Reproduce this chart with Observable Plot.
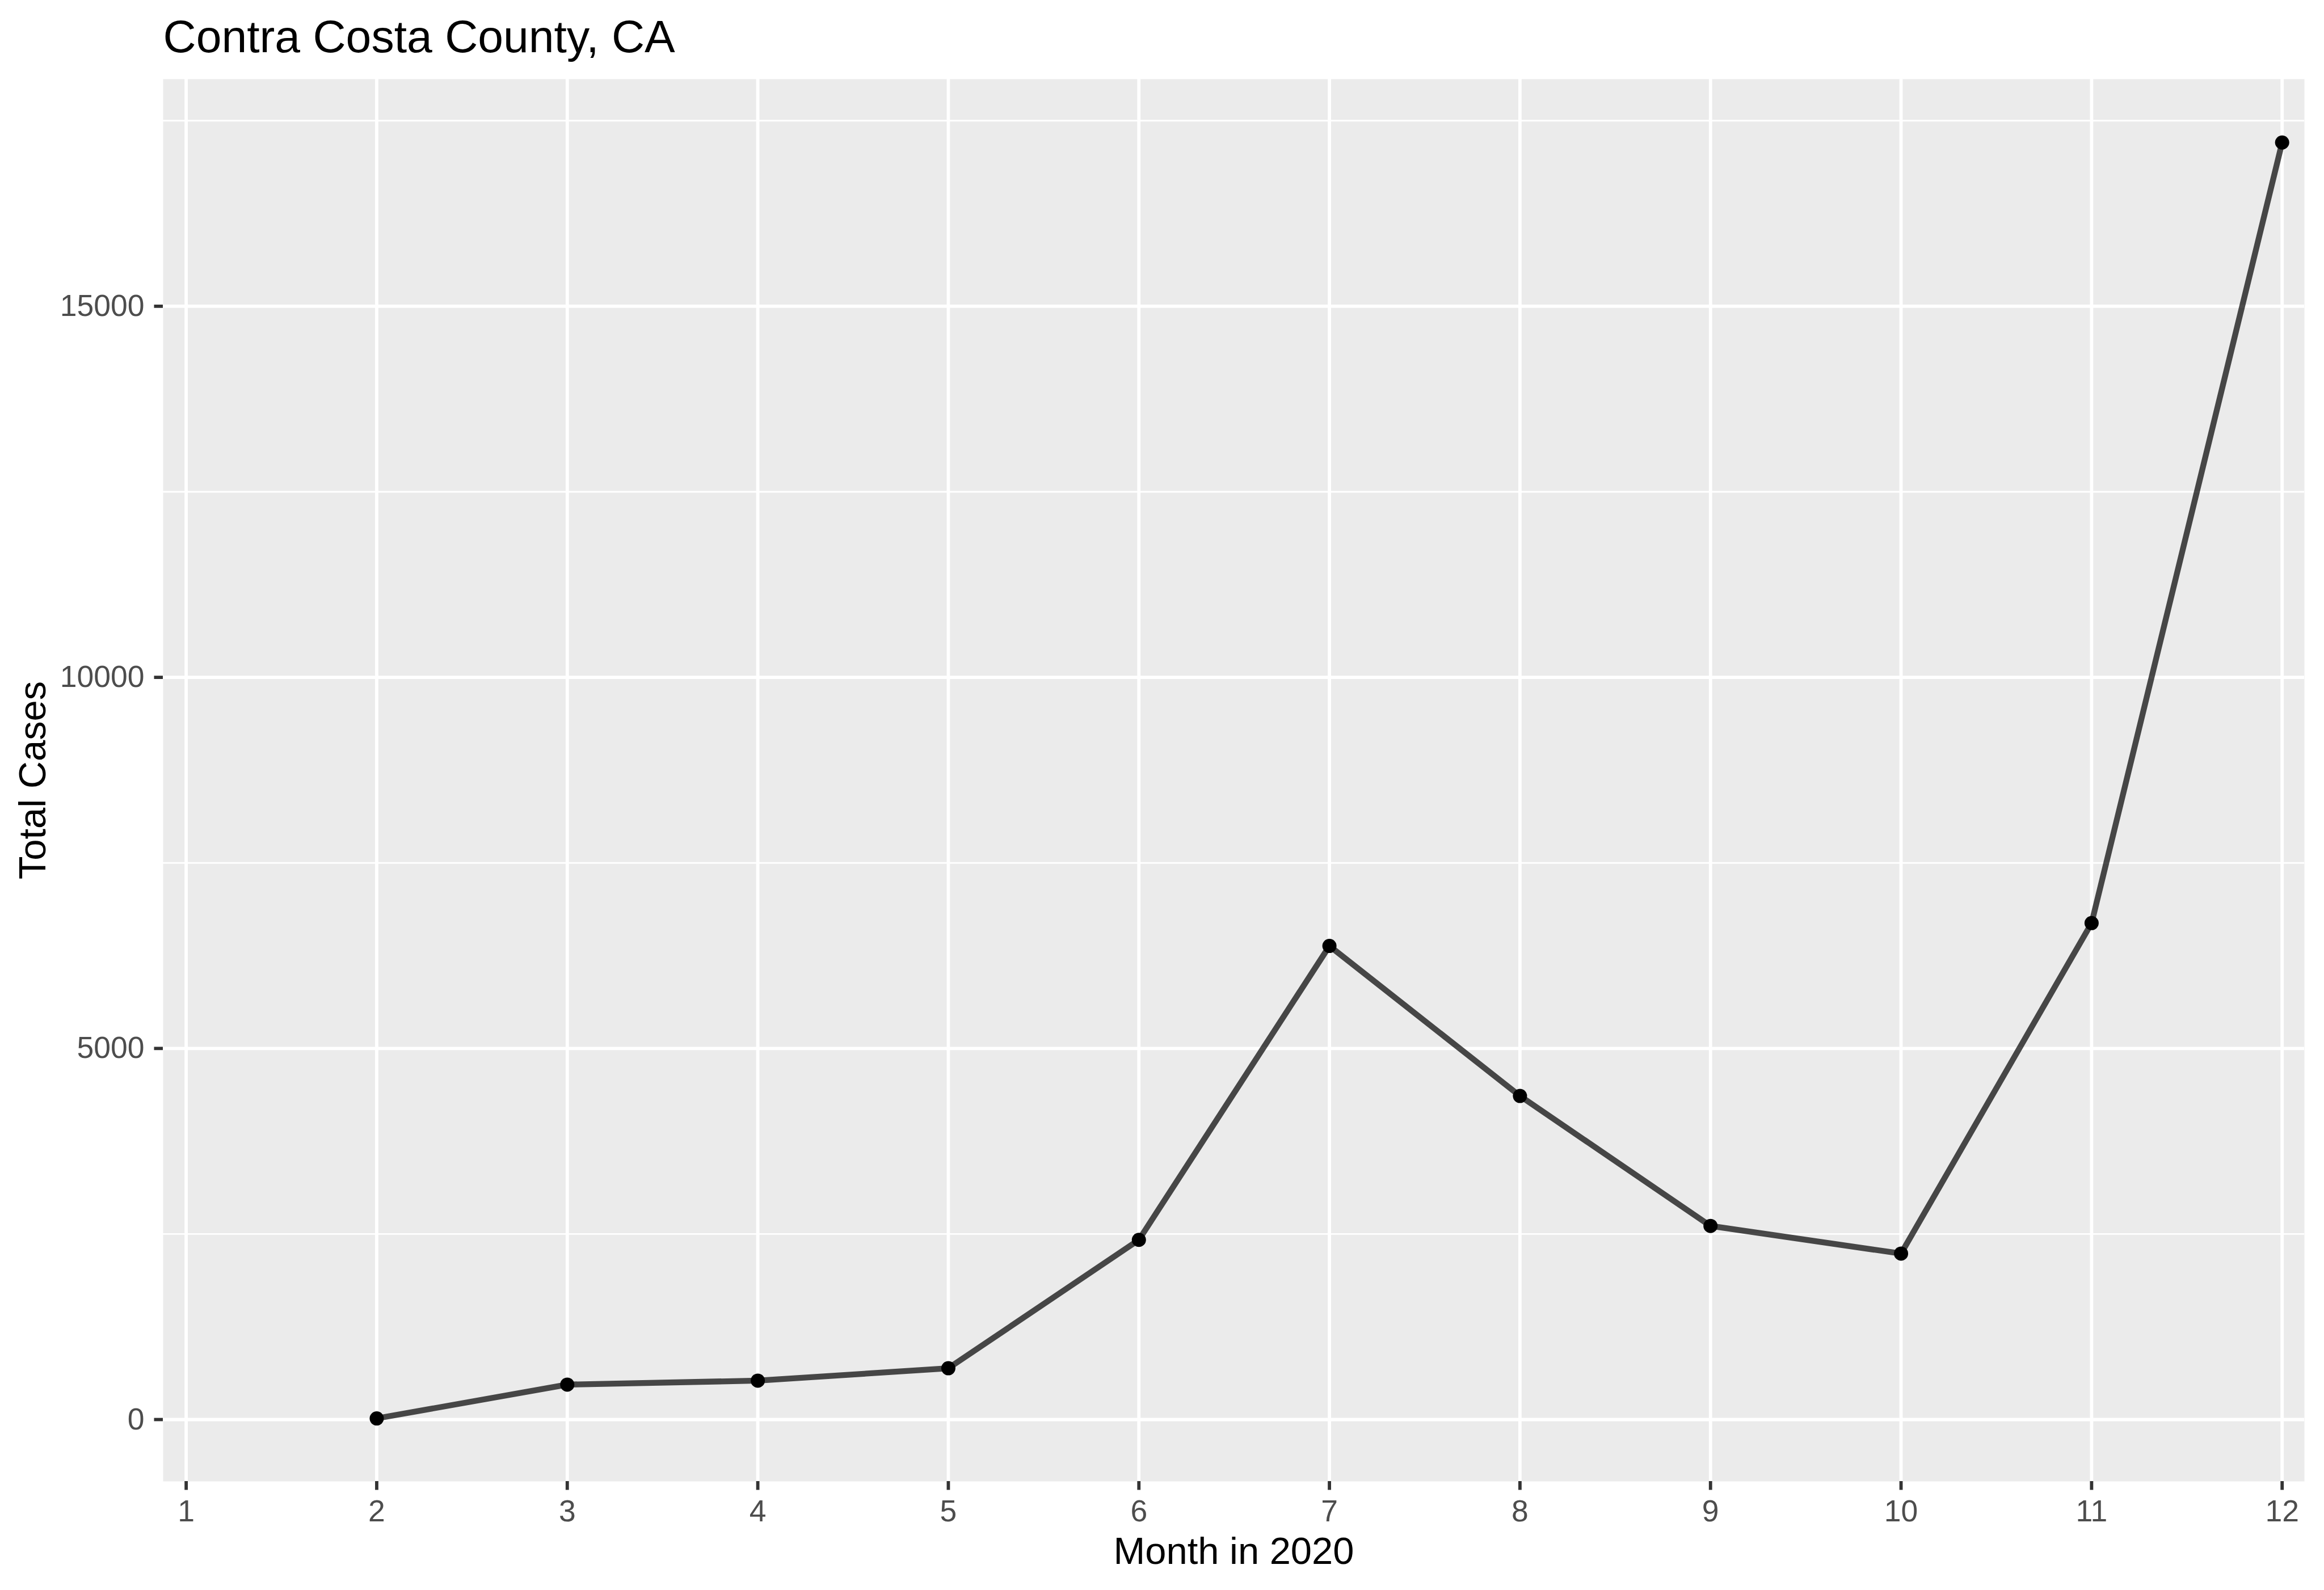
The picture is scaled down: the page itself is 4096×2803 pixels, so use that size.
<!DOCTYPE html>
<html>
<head>
<meta charset="utf-8">
<script src="https://cdn.jsdelivr.net/npm/d3@7"></script>
<script src="https://cdn.jsdelivr.net/npm/@observablehq/plot@0.6"></script>
<style>
html, body { margin: 0; padding: 0; background: #ffffff; }
#chart svg { display: block; }
</style>
</head>
<body>
<div id="chart"></div>
<script>
// Data
const months = [2, 3, 4, 5, 6, 7, 8, 9, 10, 11, 12];
const totalCases = [15, 471, 524, 691, 2421, 6381, 4360, 2609, 2236, 6689, 17206];

// Tick values
const xTicks = [1, 2, 3, 4, 5, 6, 7, 8, 9, 10, 11, 12];
const yMajorTicks = [0, 5000, 10000, 15000];
const yMinorTicks = [2500, 7500, 12500, 17500];

// Texts
const chartTitle = "Contra Costa County, CA";
const xAxisTitle = "Month in 2020";
const yAxisTitle = "Total Cases";

const rows = months.map((m, i) => ({month: m, cases: totalCases[i]}));

const FONT = '"Liberation Sans", Arial, Helvetica, sans-serif';

const chart = Plot.plot({
  width: 4096,
  height: 2803,
  marginLeft: 287,
  marginRight: 35,
  marginTop: 139,
  marginBottom: 192,
  style: {fontFamily: FONT, background: "#ffffff", overflow: "visible"},
  x: {type: "linear", domain: [0.879, 12.117]},
  y: {type: "linear", domain: [-833, 18060]},
  marks: [
    Plot.frame({fill: "#EBEBEB", stroke: "none"}),
    Plot.ruleY(yMinorTicks, {stroke: "#ffffff", strokeWidth: 2.9}),
    Plot.ruleY(yMajorTicks, {stroke: "#ffffff", strokeWidth: 5.8}),
    Plot.ruleX(xTicks, {stroke: "#ffffff", strokeWidth: 5.8}),
    Plot.axisX({
      ticks: xTicks, tickSize: 15.5, tickPadding: 16.5, fontSize: 53.5,
      stroke: "#333333", strokeWidth: 5.8, fill: "#4D4D4D",
      label: null, tickFormat: d => String(d)
    }),
    Plot.axisY({
      ticks: yMajorTicks, tickSize: 15.5, tickPadding: 17.5, fontSize: 53.5,
      stroke: "#333333", strokeWidth: 5.8, fill: "#4D4D4D",
      label: null, tickFormat: d => String(d)
    }),
    Plot.line(rows, {
      x: "month", y: "cases", stroke: "#000000", strokeOpacity: 0.7,
      strokeWidth: 10.3, strokeLinecap: "butt", strokeLinejoin: "round"
    }),
    Plot.dot(rows, {x: "month", y: "cases", r: 12.5, fill: "#000000", stroke: "none"}),
    Plot.text([chartTitle], {
      text: d => d, frameAnchor: "top-left", dy: -47.6,
      textAnchor: "start", lineAnchor: "bottom", fontSize: 80.5, fill: "#000000"
    }),
    Plot.text([xAxisTitle], {
      text: d => d, frameAnchor: "bottom", dy: 145,
      textAnchor: "middle", lineAnchor: "bottom", fontSize: 66.9, fill: "#000000"
    }),
    Plot.text([yAxisTitle], {
      text: d => d, frameAnchor: "left", dx: -208, rotate: -90,
      textAnchor: "middle", lineAnchor: "bottom", fontSize: 66.9, fill: "#000000"
    })
  ]
});

document.getElementById("chart").appendChild(chart);
</script>
</body>
</html>
